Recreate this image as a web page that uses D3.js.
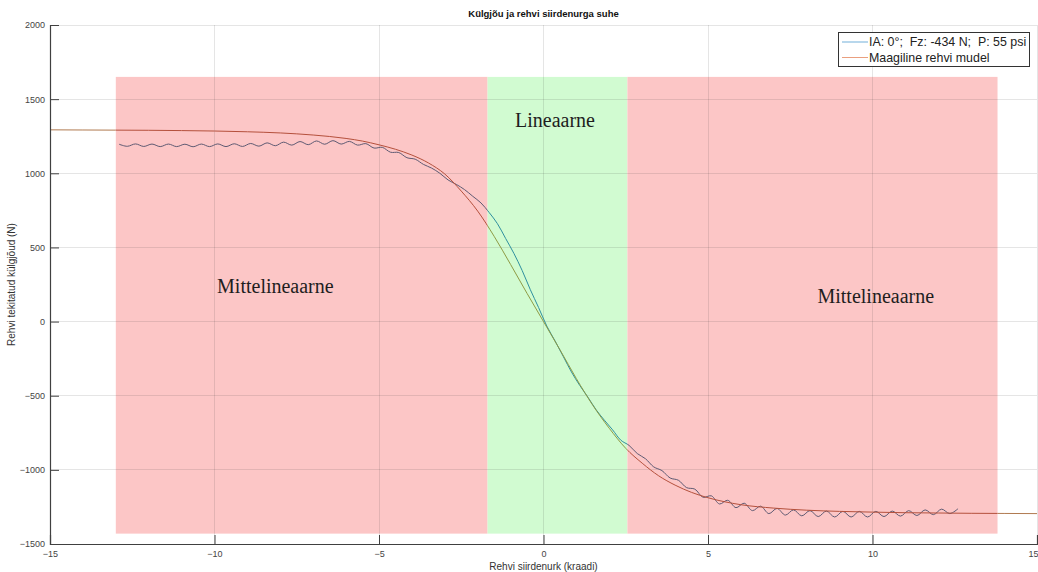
<!DOCTYPE html>
<html>
<head>
<meta charset="utf-8">
<script src="https://cdn.jsdelivr.net/npm/d3@7"></script>
<style>
  html, body { margin: 0; padding: 0; background: #fff; }
  svg { display: block; }
  text { font-family: "Liberation Sans", Arial, Helvetica, sans-serif; }
</style>
</head>
<body>
<svg id="chart" width="1038" height="572"></svg>
<script>
// Slip angle (deg) vs lateral force (N)
const titleText = "Külgjõu ja rehvi siirdenurga suhe";
const xLabel = "Rehvi siirdenurk (kraadi)";
const yLabel = "Rehvi tekitatud külgjõud (N)";

const xTicks = [-15, -10, -5, 0, 5, 10, 15];
const yTicks = [-1500, -1000, -500, 0, 500, 1000, 1500, 2000];

// Measured tyre test data
const measuredAngle = [
  -12.90, -12.65, -12.40, -12.15, -11.90, -11.65, -11.40, -11.15, -10.90, -10.65,
  -10.40, -10.15, -9.90, -9.65, -9.40, -9.15, -8.90, -8.65, -8.40, -8.15,
  -7.90, -7.65, -7.40, -7.15, -6.90, -6.65, -6.40, -6.15, -5.90, -5.65,
  -5.40, -5.15, -4.90, -4.65, -4.40, -4.15, -3.90, -3.65, -3.40, -3.15,
  -2.90, -2.65, -2.40, -2.15, -1.90, -1.65, -1.40, -1.15, -0.90, -0.65,
  -0.40, -0.15, 0.10, 0.35, 0.60, 0.85, 1.10, 1.35, 1.60, 1.85,
  2.10, 2.35, 2.60, 2.85, 3.10, 3.35, 3.60, 3.85, 4.10, 4.35,
  4.60, 4.85, 5.10, 5.35, 5.60, 5.85, 6.10, 6.35, 6.60, 6.85,
  7.10, 7.35, 7.60, 7.85, 8.10, 8.35, 8.60, 8.85, 9.10, 9.35,
  9.60, 9.85, 10.10, 10.35, 10.60, 10.85, 11.10, 11.35, 11.60, 11.85,
  12.10, 12.35, 12.60
];
const measuredForce = [
  1196, 1182, 1198, 1181, 1197, 1180, 1197, 1180, 1196, 1179,
  1197, 1180, 1198, 1180, 1199, 1181, 1201, 1183, 1205, 1186,
  1210, 1190, 1214, 1193, 1218, 1196, 1220, 1197, 1215, 1190,
  1200, 1170, 1175, 1142, 1140, 1105, 1095, 1060, 1035, 1000,
  955, 925, 890, 845, 800, 735, 660, 560, 460, 345,
  215, 95, -30, -130, -235, -340, -430, -510, -595, -665,
  -730, -800, -835, -890, -925, -980, -1005, -1055, -1070, -1120,
  -1130, -1185, -1175, -1230, -1205, -1255, -1225, -1275, -1245, -1295,
  -1260, -1305, -1270, -1310, -1275, -1315, -1278, -1318, -1280, -1318,
  -1280, -1318, -1280, -1315, -1278, -1312, -1275, -1308, -1270, -1302,
  -1265, -1295, -1262
];

// Magic Formula tyre model
const modelAngle = [
  -15, -14, -13, -12, -11, -10, -9, -8, -7, -6, -5.5, -5, -4.5, -4, -3.5, -3,
  -2.5, -2, -1.5, -1, -0.5, 0, 0.5, 1, 1.5, 2, 2.5, 3, 3.5, 4, 4.5, 5,
  5.5, 6, 7, 8, 9, 10, 11, 12, 13, 14, 15
];
const modelForce = [
  1293, 1292, 1291, 1290, 1288, 1285, 1280, 1272, 1258, 1235, 1217, 1192, 1162, 1123, 1070, 995,
  880, 745, 575, 385, 190, 0, -190, -385, -565, -720, -855, -955, -1040, -1103, -1152, -1188,
  -1215, -1235, -1258, -1272, -1280, -1285, -1289, -1291, -1293, -1294, -1295
];

const seriesNames = ["IA: 0°;  Fz: -434 N;  P: 55 psi", "Maagiline rehvi mudel"];
const seriesColors = ["#0072BD", "#D95319"];

// Shaded regions of the force curve
const regionStart = [-13, -1.7, 2.55];
const regionEnd = [-1.7, 2.55, 13.8];
const regionTop = [1650, 1650, 1650];
const regionBottom = [-1430, -1430, -1430];
const regionFill = ["#fcc6c6", "#d1fbd1", "#fcc6c6"];
// curve colours as they show through each translucent patch
const regionCurveColors = [["#5e5a72", "#b4503c"], ["#2f8f9e", "#8e9a44"], ["#5e5a72", "#b4503c"]];

const labelText = ["Mittelineaarne", "Lineaarne", "Mittelineaarne"];
const labelAngle = [-8.15, 0.35, 10.1];
const labelForce = [194, 1312, 126];

const svg = d3.select("#chart");
const margin = { left: 50, right: 1, top: 25, bottom: 28 };
const W = 1038, H = 572;

const x = d3.scaleLinear().domain([-15, 15]).range([margin.left, W - margin.right]);
const y = d3.scaleLinear().domain([-1500, 2000]).range([H - margin.bottom, margin.top]);

svg.append("rect").attr("width", W).attr("height", H).attr("fill", "#fff");

// region patches
svg.append("g").selectAll("rect").data(regionStart).join("rect")
  .attr("x", d => x(d))
  .attr("y", (d, i) => y(regionTop[i]))
  .attr("width", (d, i) => x(regionEnd[i]) - x(d))
  .attr("height", (d, i) => y(regionBottom[i]) - y(regionTop[i]))
  .attr("fill", (d, i) => regionFill[i]);

// grid (shows through the patches)
const grid = svg.append("g");
grid.selectAll("line.gx").data(xTicks).join("line")
  .attr("x1", d => x(d)).attr("x2", d => x(d))
  .attr("y1", y(-1500)).attr("y2", y(2000))
  .attr("stroke", "#262626").attr("stroke-opacity", 0.12).attr("stroke-width", 1)
  .attr("shape-rendering", "crispEdges");
grid.selectAll("line.gy").data(yTicks).join("line")
  .attr("y1", d => y(d)).attr("y2", d => y(d))
  .attr("x1", x(-15)).attr("x2", x(15))
  .attr("stroke", "#262626").attr("stroke-opacity", 0.12).attr("stroke-width", 1)
  .attr("shape-rendering", "crispEdges");

// curves
const measured = measuredAngle.map((a, i) => [a, measuredForce[i]]);
const model = modelAngle.map((a, i) => [a, modelForce[i]]);

const lineMeasured = d3.line().x(d => x(d[0])).y(d => y(d[1])).curve(d3.curveCatmullRom.alpha(0.5));
const lineModel = d3.line().x(d => x(d[0])).y(d => y(d[1])).curve(d3.curveMonotoneX);
const pathMeasured = lineMeasured(measured);
const pathModel = lineModel(model);

const defs = svg.append("defs");
regionStart.forEach((s, i) => {
  defs.append("clipPath").attr("id", "region-clip-" + i)
    .append("rect")
    .attr("x", x(s)).attr("y", y(regionTop[i]))
    .attr("width", x(regionEnd[i]) - x(s))
    .attr("height", y(regionBottom[i]) - y(regionTop[i]));
});
defs.append("clipPath").attr("id", "outside-clip")
  .append("path")
  .attr("clip-rule", "evenodd")
  .attr("d", `M0,0H${W}V${H}H0Z` + regionStart.map((s, i) =>
    `M${x(s)},${y(regionTop[i])}H${x(regionEnd[i])}V${y(regionBottom[i])}H${x(s)}Z`).join(""));

const curves = svg.append("g").attr("fill", "none").attr("stroke-width", 1);
// parts outside the shaded regions
const outside = curves.append("g").attr("clip-path", "url(#outside-clip)");
outside.append("path").attr("d", pathMeasured).attr("stroke", "#4f6f90");
outside.append("path").attr("d", pathModel).attr("stroke", "#b07a50");
// parts inside each shaded region
regionStart.forEach((s, i) => {
  const g = curves.append("g").attr("clip-path", `url(#region-clip-${i})`);
  g.append("path").attr("d", pathMeasured).attr("stroke", regionCurveColors[i][0]);
  g.append("path").attr("d", pathModel).attr("stroke", regionCurveColors[i][1]);
});

// region labels
svg.append("g").selectAll("text").data(labelText).join("text")
  .attr("x", (d, i) => x(labelAngle[i]))
  .attr("y", (d, i) => y(labelForce[i]))
  .attr("text-anchor", "middle")
  .style("font-family", "'Liberation Serif', 'Times New Roman', serif")
  .style("font-size", "20px")
  .attr("fill", "#1e1e1e")
  .text(d => d);

// axes
const axisColor = "#404040";
const xAxis = svg.append("g").attr("transform", `translate(0,${y(-1500)})`)
  .call(d3.axisBottom(x).tickValues(xTicks).tickSize(-9).tickPadding(14).tickFormat(d3.format("d")));
const yAxis = svg.append("g").attr("transform", `translate(${x(-15)},0)`)
  .call(d3.axisLeft(y).tickValues(yTicks).tickSize(-9).tickPadding(14).tickFormat(d3.format("d")));
[xAxis, yAxis].forEach(g => {
  g.select(".domain").attr("stroke", axisColor).attr("stroke-width", 1.2);
  g.selectAll(".tick line").attr("stroke", axisColor);
  g.selectAll(".tick text").attr("fill", "#444")
    .style("font-family", "'Liberation Sans', Arial, sans-serif").style("font-size", "9px");
});
yAxis.selectAll(".tick text").attr("x", -5);
xAxis.selectAll(".tick text").attr("y", 7);
// keep the last x tick label inside the page
xAxis.selectAll(".tick text").filter(d => d === 15).attr("text-anchor", "end").attr("dx", 1);

// axis labels
svg.append("text").attr("x", x(0)).attr("y", 570)
  .attr("text-anchor", "middle").style("font-size", "10px").attr("fill", "#333")
  .text(xLabel);
svg.append("text")
  .attr("transform", `translate(15,${(y(-1500) + y(2000)) / 2}) rotate(-90)`)
  .attr("text-anchor", "middle").style("font-size", "10px").attr("fill", "#333")
  .text(yLabel);

// title
svg.append("text").attr("x", x(0)).attr("y", 17)
  .attr("text-anchor", "middle").style("font-size", "9.5px").style("font-weight", "bold")
  .attr("fill", "#111").text(titleText);

// legend
const legend = svg.append("g").attr("transform", "translate(838,32)");
legend.append("rect").attr("width", 191).attr("height", 34)
  .attr("fill", "#fff").attr("stroke", "#333").attr("stroke-width", 1)
  .attr("shape-rendering", "crispEdges");
seriesNames.forEach((name, i) => {
  const ly = 10 + i * 15.5;
  legend.append("line").attr("x1", 4).attr("x2", 30).attr("y1", ly).attr("y2", ly)
    .attr("stroke", seriesColors[i]).attr("stroke-width", 0.8).attr("stroke-opacity", 0.7);
  legend.append("text").attr("x", 31).attr("y", ly + 4.2)
    .style("font-size", "12.4px").style("white-space", "pre").attr("fill", "#222")
    .text(name);
});
</script>
</body>
</html>
